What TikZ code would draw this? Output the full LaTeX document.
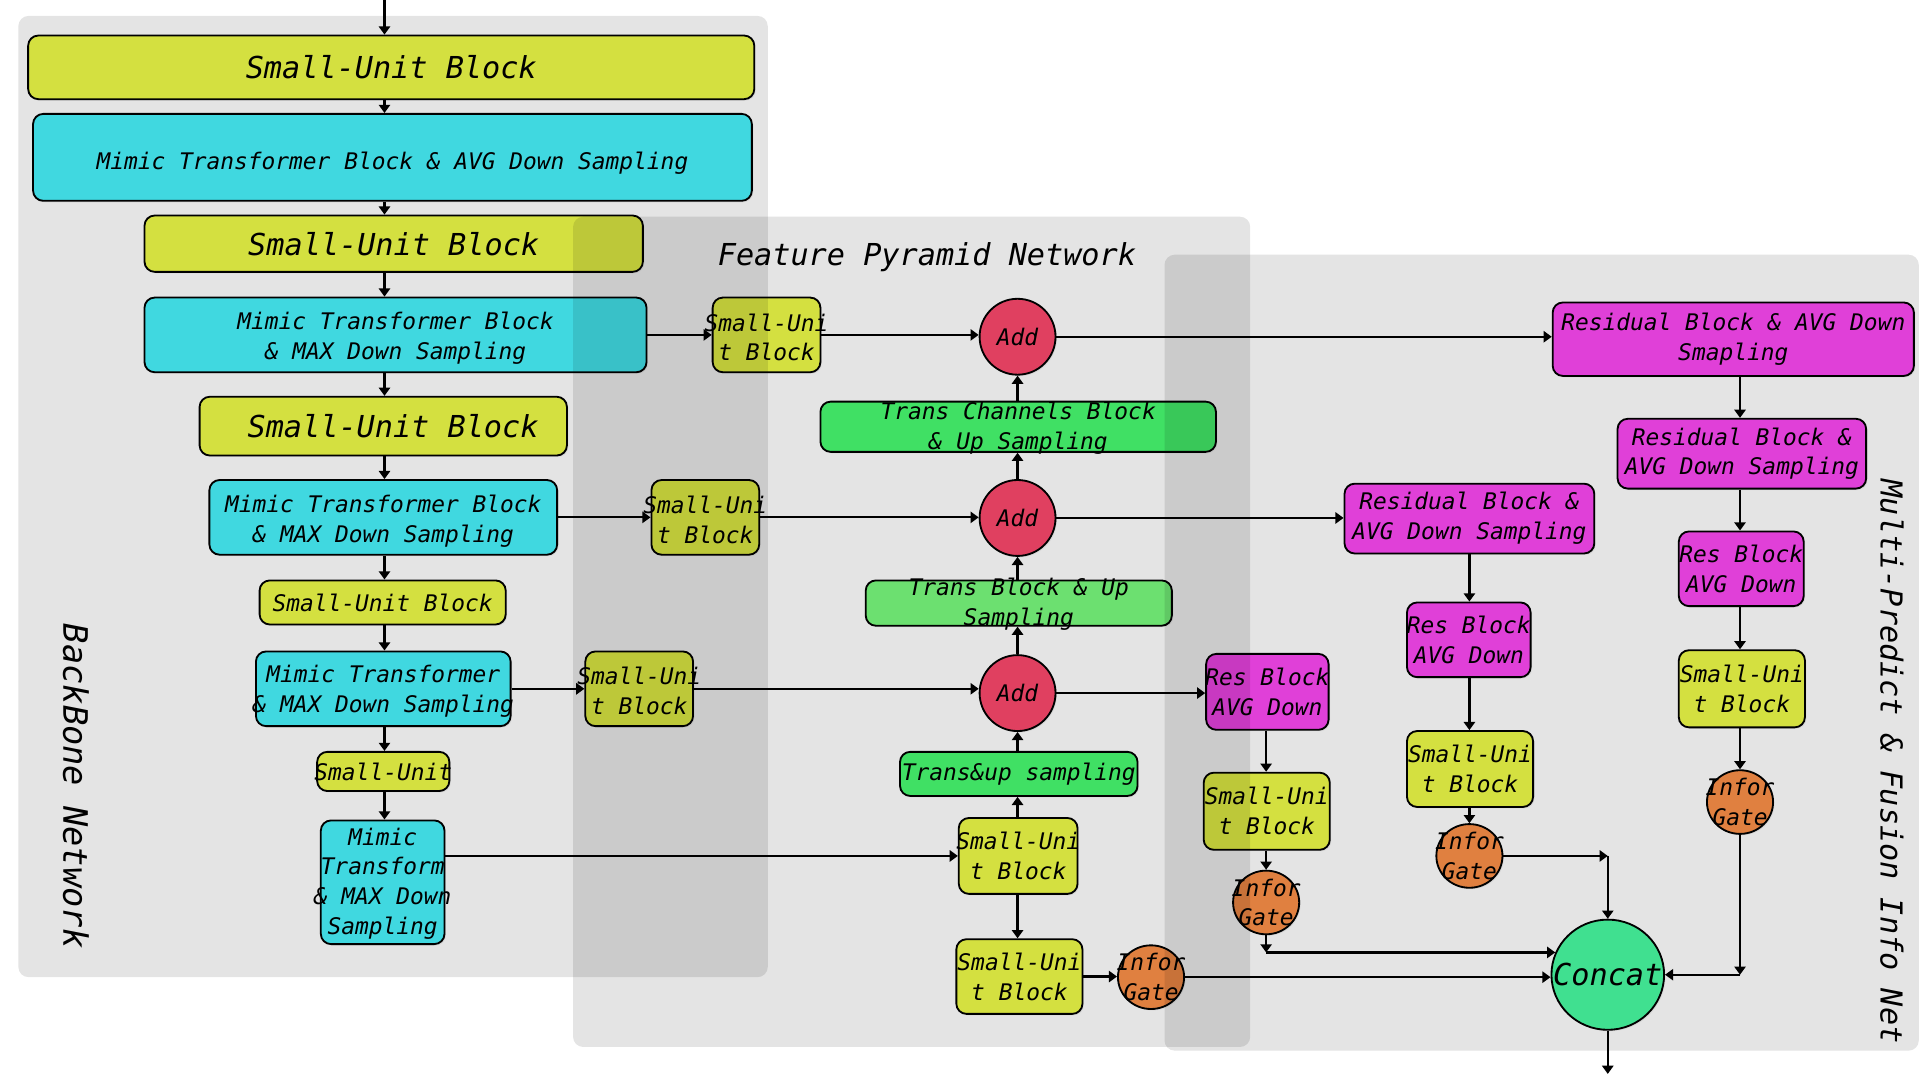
\documentclass[tikz,border=0pt]{standalone}
\usepackage{fontspec}
\newfontfamily\dm{DejaVu Sans Mono}
\usetikzlibrary{shapes.geometric,arrows.meta,shadows}
\definecolor{cyel}{HTML}{D4E040}
\definecolor{ccya}{HTML}{40D8E0}
\definecolor{cmag}{HTML}{E040D8}
\definecolor{cred}{HTML}{E04060}
\definecolor{cgrn}{HTML}{40E064}
\definecolor{cgrl}{HTML}{6CE070}
\definecolor{cora}{HTML}{E08040}
\definecolor{ccon}{HTML}{40E090}
\definecolor{cpan}{HTML}{E4E4E4}
\newcommand\Lg{\fontsize{14.8}{18}\selectfont}
\newcommand\bx[8][0]{%
  \node[#2, minimum width={(#6-#4)*0.6pt}, minimum height={(#7-#5)*0.6pt}] (#3) at ({(#4+#6)/2},{(#5+#7)/2}) {};
  \node[txt] (#3t) at ([yshift={-#1*0.6pt}]#3.center) {#8};}
\newcommand\myell[7]{%
  \node[#1, ellipse, minimum width={2*#5*0.6pt}, minimum height={2*#6*0.6pt}] (#2) at (#3,#4) {};
  \node[txt] (#2t) at (#2.center) {#7};}
\tikzset{
  blk/.style={draw=black, line width=0.9pt, rounded corners=5pt, inner sep=0pt,
    drop shadow={opacity=0.15, shadow xshift=0.7pt, shadow yshift=-0.7pt}},
  elb/.style={draw=black, line width=0.9pt, inner sep=0pt,
    drop shadow={opacity=0.15, shadow xshift=0.7pt, shadow yshift=-0.7pt}},
  yb/.style={blk, fill=cyel},
  cb/.style={blk, fill=ccya},
  mb/.style={blk, fill=cmag},
  gb/.style={blk, fill=cgrn},
  lgb/.style={blk, fill=cgrl},
  txt/.style={font=\dm\itshape\fontsize{11.2}{14.6}\selectfont, align=center, inner sep=0pt},
  ttl/.style={font=\dm\itshape\fontsize{14.8}{18}\selectfont, inner sep=0pt},
  arr/.style={line width=1.1pt, -{Triangle[width=5.5pt,length=4pt]}},
  pnl/.style={fill=cpan, rounded corners=5pt},
  ovl/.style={fill=black, fill opacity=0.106, rounded corners=5pt}
}
\begin{document}
\begin{tikzpicture}[x=0.6pt,y=-0.6pt]
\useasboundingbox (0,0) rectangle (1568,882);
% ---------- panels ----------
\fill[pnl] (15,13) rectangle (627,798);
\fill[pnl] (468,177) rectangle (1021,855);
\fill[pnl] (951,208) rectangle (1567,858);
% axes
\coordinate (in) at (314,0);
\coordinate (fa) at (831,0);
\coordinate (ma) at (1421,0);
% ---------- Backbone ----------
\bx{yb}{SUB1}{23}{29}{616}{81}{\Lg Small-Unit Block}
\bx[5]{cb}{MTB1}{27}{93}{614}{164}{Mimic Transformer Block \& AVG Down Sampling}
\bx{yb}{SUB2}{118}{176}{525}{222}{\Lg Small-Unit Block}
\bx[3]{cb}{MTB2}{118}{243}{528}{304}{Mimic Transformer Block\\\& MAX Down Sampling}
\node[yb, minimum width={300*0.6pt}, minimum height={48*0.6pt}] (SUB3) at (313,348) {};
\node[txt] (SUB3t) at ([xshift={8*0.6pt}]SUB3.center) {\Lg Small-Unit Block};
\bx[3]{cb}{MTB3}{171}{392}{455}{453}{Mimic Transformer Block\\\& MAX Down Sampling}
\bx{yb}{SUB4}{212}{474}{413}{510}{Small-Unit Block}
\bx[2]{cb}{MTB4}{209}{532}{417}{593}{Mimic Transformer\\\& MAX Down Sampling}
\bx{yb}{SUB5}{259}{614}{367}{646}{Small-Unit}
\bx[1]{cb}{MTB5}{262}{670}{363}{771}{Mimic\\Transform\\\& MAX Down\\Sampling}
% ---------- FPN ----------
\bx[2]{yb}{SUa}{582}{243}{670}{304}{Small-Uni\\t Block}
\bx[2]{yb}{SUb}{532}{392}{620}{453}{Small-Uni\\t Block}
\bx[2]{yb}{SUc}{478}{532}{566}{593}{Small-Uni\\t Block}
\myell{elb, fill=cred}{Add1}{831}{275}{31}{31}{Add}
\bx[1]{gb}{TCB}{670}{328}{993}{369}{Trans Channels Block\\\& Up Sampling}
\myell{elb, fill=cred}{Add2}{831}{423}{31}{31}{Add}
\bx[1]{lgb}{TB}{707}{474}{957}{511}{Trans Block \& Up\\Sampling}
\myell{elb, fill=cred}{Add3}{831}{566}{31}{31}{Add}
\bx{gb}{TUS}{735}{614}{929}{650}{Trans\&up sampling}
\bx{yb}{SUd}{783}{668}{880}{730}{Small-Uni\\t Block}
\bx{yb}{SUe}{781}{767}{884}{828}{Small-Uni\\t Block}
\myell{elb, fill=cora}{IGe}{940}{798}{27}{26}{Infor\\Gate}
% ---------- Multi-Predict ----------
\bx{mb}{Res1}{1268}{247}{1563}{307}{Residual Block \& AVG Down\\Smapling}
\bx{mb}{Res1b}{1321}{342}{1524}{399}{Residual Block \&\\AVG Down Sampling}
\bx{mb}{Res1c}{1371}{434}{1473}{495}{Res Block\\AVG Down}
\bx{yb}{SUf}{1371}{531}{1474}{594}{Small-Uni\\t Block}
\myell{elb, fill=cora}{IGf}{1421}{655}{27}{26}{Infor\\Gate}
\bx{mb}{Res2}{1098}{395}{1302}{452}{Residual Block \&\\AVG Down Sampling}
\bx{mb}{Res2b}{1149}{492}{1250}{553}{Res Block\\AVG Down}
\bx{yb}{SUg}{1149}{597}{1252}{659}{Small-Uni\\t Block}
\myell{elb, fill=cora}{IGg}{1200}{699}{27}{26}{Infor\\Gate}
\bx{mb}{Res3}{985}{534}{1085}{596}{Res Block\\AVG Down}
\bx{yb}{SUh}{983}{631}{1086}{694}{Small-Uni\\t Block}
\myell{elb, fill=cora}{IGh}{1034}{737}{27}{26}{Infor\\Gate}
\myell{elb, fill=ccon}{Concat}{1313}{796}{46}{45}{\Lg Concat}
% ---------- connectors ----------
\draw[arr] (in) -- (SUB1.north -| in);
\draw[arr] (SUB1.south -| in) -- (MTB1.north -| in);
\draw[arr] (MTB1.south -| in) -- (SUB2.north -| in);
\draw[arr] (SUB2.south -| in) -- (MTB2.north -| in);
\draw[arr] (MTB2.south -| in) -- (SUB3.north -| in);
\draw[arr] (SUB3.south -| in) -- (MTB3.north -| in);
\draw[arr] (MTB3.south -| in) -- (SUB4.north -| in);
\draw[arr] (SUB4.south -| in) -- (MTB4.north -| in);
\draw[arr] (MTB4.south -| in) -- (SUB5.north -| in);
\draw[arr] (SUB5.south -| in) -- (MTB5.north -| in);
\draw[arr] (MTB2.east) -- (MTB2.east -| SUa.west);
\draw[arr] (SUa.east) -- (SUa.east -| Add1.west);
\draw[arr] (Add1.east) -- (Add1.east -| Res1.west);
\draw[arr] (MTB3.east) -- (MTB3.east -| SUb.west);
\draw[arr] (SUb.east) -- (SUb.east -| Add2.west);
\draw[arr] (Add2.east) -- (Add2.east -| Res2.west);
\draw[arr] (MTB4.east) -- (MTB4.east -| SUc.west);
\draw[arr] (SUc.east) -- (SUc.east -| Add3.west);
\draw[arr] (Add3.east) -- (Add3.east -| Res3.west);
\draw[arr] (SUd.west -| MTB5.east) -- (SUd.west);
\draw[arr] (TCB.north -| fa) -- (Add1.south);
\draw[arr] (Add2.north) -- (TCB.south -| fa);
\draw[arr] (TB.north -| fa) -- (Add2.south);
\draw[arr] (Add3.north) -- (TB.south -| fa);
\draw[arr] (TUS.north -| fa) -- (Add3.south);
\draw[arr] (SUd.north -| fa) -- (TUS.south -| fa);
\draw[arr] (SUd.south -| fa) -- (SUe.north -| fa);
\draw[arr] (SUe.east) -- (SUe.east -| IGe.west);
\draw[arr] (IGe.east) -- (IGe.east -| Concat.west);
% multi-predict
\draw[arr] (Res1.south -| ma) -- (Res1b.north -| ma);
\draw[arr] (Res1b.south -| ma) -- (Res1c.north -| ma);
\draw[arr] (Res1c.south -| ma) -- (SUf.north -| ma);
\draw[arr] (SUf.south -| ma) -- (IGf.north);
\coordinate (cf) at (IGf.south |- Concat.east);
\draw[arr] (IGf.south) -- (cf);
\draw[arr] (cf) -- (Concat.east);
\draw[arr] (Res2.south -| IGg) -- (Res2b.north -| IGg);
\draw[arr] (Res2b.south -| IGg) -- (SUg.north -| IGg);
\draw[arr] (SUg.south -| IGg) -- (IGg.north);
\coordinate (cg) at (Concat.north |- IGg.east);
\draw[arr] (IGg.east) -- (cg);
\draw[arr] (cg) -- (Concat.north);
\draw[arr] (Res3.south -| IGh) -- (SUh.north -| IGh);
\draw[arr] (SUh.south -| IGh) -- (IGh.north);
\coordinate (ch) at (IGh.south |- Concat.157);
\draw[arr] (IGh.south) -- (ch);
\draw[arr] (ch) -- (Concat.157);
\coordinate (out) at (1313,877);
\draw[arr] (Concat.south) -- (out);
% ---------- panel overlaps ----------
\begin{scope}
  \clip[rounded corners=5pt] (15,13) rectangle (627,798);
  \fill[ovl] (468,177) rectangle (1021,855);
\end{scope}
\begin{scope}
  \clip[rounded corners=5pt] (468,177) rectangle (1021,855);
  \fill[ovl] (951,208) rectangle (1567,858);
\end{scope}
\node[ttl] (tFPN) at (757,210) {Feature Pyramid Network};
\node[ttl, font=\dm\itshape\fontsize{16.5}{20}\selectfont, rotate=-90] (tBB) at (62,642) {BackBone Network};
\node[ttl, rotate=-90] (tMP) at (1545,622) {Multi-Predict \& Fusion Info Net};
\end{tikzpicture}
\end{document}
